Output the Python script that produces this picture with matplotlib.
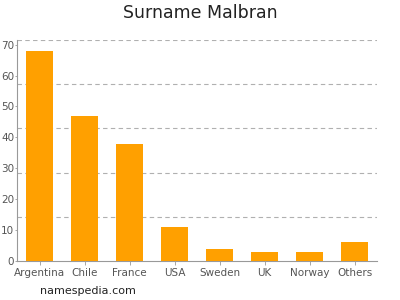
import matplotlib
matplotlib.use("Agg")
import matplotlib.pyplot as plt
import numpy as np

countries = ["Argentina", "Chile", "France", "USA", "Sweden", "UK", "Norway", "Others"]
counts = [68, 47, 38, 11, 4, 3, 3, 6]
y_ticks = [0, 10, 20, 30, 40, 50, 60, 70]

y_max = 71.5
grey = "#555555"

fig = plt.figure(figsize=(4, 3), dpi=100)
ax = fig.add_axes([0.0425, 0.13, 0.9, 0.7367])

x = np.arange(len(countries))
ax.bar(x, counts, width=0.62, color="#ffa000", zorder=3)

ax.set_xlim(-0.5, len(countries) - 0.5)
ax.set_ylim(0, y_max)

# dashed grid at fifths of the axis height, ticks at tens
for g in np.linspace(0, y_max, 6)[1:]:
    ax.axhline(g, color="#b0b0b0", linestyle=(0, (4, 3)), linewidth=0.8, zorder=1)

ax.set_xticks(x)
ax.set_xticklabels(countries)
ax.set_yticks(y_ticks)
ax.tick_params(axis="x", labelsize=7.5, colors="#999999", labelcolor=grey, length=3, width=0.6, pad=2)
ax.tick_params(axis="y", labelsize=7.5, colors="#999999", labelcolor=grey, length=1.5, width=0.6, pad=0.5)

for side in ("top", "right"):
    ax.spines[side].set_visible(False)
for side in ("left", "bottom"):
    ax.spines[side].set_color("#999999")
    ax.spines[side].set_linewidth(0.8)

fig.text(0.5, 0.955, "Surname Malbran", ha="center", va="center", fontsize=12.5, color="#222222")
fig.text(0.1, 0.03, "namespedia.com", ha="left", va="center", fontsize=8, color="#222222")

fig.savefig("out.png", dpi=100)
